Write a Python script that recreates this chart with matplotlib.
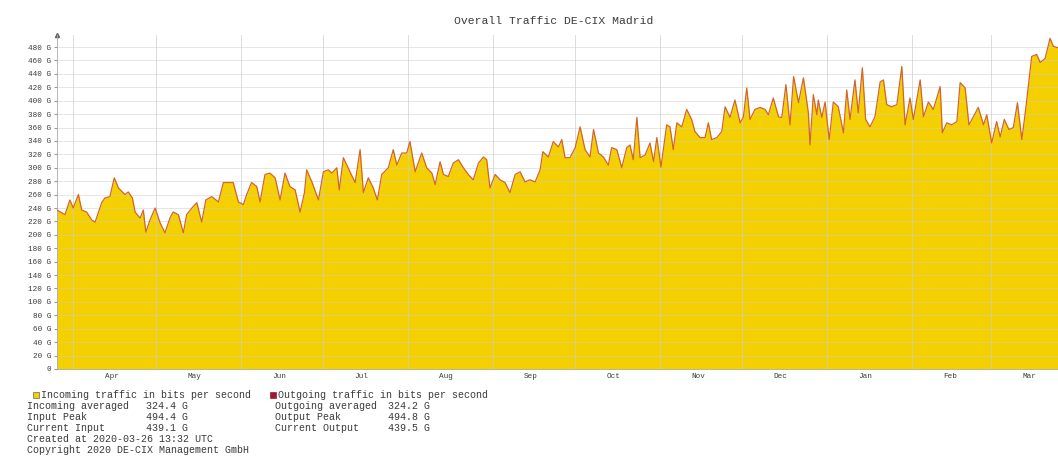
import datetime
import matplotlib
matplotlib.use("Agg")
import matplotlib.pyplot as plt
import matplotlib.dates as mdates
from matplotlib.patches import Rectangle

# days since 2019-03-26 and traffic in Gbit/s
days = [0, 2.9, 4.7, 5.9, 7.8, 9.0, 10.8, 12.7, 13.9, 16.3, 17.5, 19.3, 20.9, 22.4, 24.8, 26.0,
        27.5, 28.5, 30.3, 31.5, 32.4, 33.9, 35.8, 37.6, 39.4, 41.2, 42.4, 44.3, 46.1, 47.3, 49.2,
        51.0, 52.8, 54.3, 56.5, 58.9, 60.7, 63.1, 64.3, 66.2, 68.0, 69.2, 71.0, 72.9, 74.1, 75.9,
        77.7, 79.6, 81.4, 83.2, 85.0, 86.9, 88.7, 90.3,
        91.1, 93.0, 95.4, 97.2, 99.0, 100.3, 102.1, 103.0, 104.5, 106.9, 108.8, 110.6, 111.8,
        113.6, 115.4, 116.9, 118.5, 120.9, 122.7, 124.0, 125.8, 127.6, 128.8, 130.7, 133.1, 134.9,
        136.8, 138.0, 139.8, 141.0, 142.8, 144.6, 146.5, 148.3, 150.1, 151.9, 153.8, 155.6, 156.8,
        158.0, 159.9, 161.7, 163.5, 165.3, 167.2, 169.0, 170.8, 172.6, 174.5, 176.3, 177.3, 179.3,
        181.1, 183.0,
        184.2, 185.4, 187.2, 189.1, 190.9, 192.7, 194.5, 195.8, 197.6, 199.4, 201.2, 202.4, 204.3,
        206.1, 207.9, 209.1, 210.3, 211.6, 212.8, 214.6, 216.4, 217.7, 218.9, 220.4, 222.5, 223.7,
        224.9, 226.2, 228.0, 229.8, 231.6, 232.8, 234.7, 236.5, 237.7, 238.9, 240.8, 242.6, 243.8,
        245.6, 247.4, 249.3, 250.5, 251.7, 252.9, 254.7, 256.6, 258.4, 259.6, 261.4, 263.3, 264.5,
        266.0, 267.5, 268.8, 270.6, 272.4,
        274.2, 274.8, 276.0, 277.3, 277.8, 279.1, 280.3, 281.8, 283.3, 285.1, 287.0, 288.2, 289.4,
        291.2, 292.4, 293.9, 295.1, 296.7, 298.5, 300.4, 301.6, 302.8, 304.6, 306.5, 308.3, 309.5,
        311.3, 312.5, 315.0, 316.2, 318.0, 319.8, 322.3, 323.1, 324.7, 326.5, 328.4, 329.6, 331.4,
        332.8, 334.4, 336.2, 338.1, 339.3, 341.1, 342.9, 344.2, 345.7, 347.4, 349.0, 350.5, 352.1,
        353.5, 355.7, 357.5, 358.8, 360.6, 362.4, 363.6, 365.2]
incoming = [237, 230, 252, 240, 260, 237, 234, 222, 219, 248, 255, 257, 285, 270, 260, 264,
            255, 234, 225, 237, 204, 222, 240, 218, 203, 225, 234, 230, 203, 230, 240,
            248, 219, 252, 257, 249, 278, 278, 278, 249, 245, 260, 278, 272, 249, 290,
            292, 285, 252, 292, 272, 267, 234, 263,
            297, 279, 252, 294, 297, 292, 300, 267, 315, 294, 278, 327, 263,
            285, 270, 252, 290, 300, 327, 304, 322, 322, 339, 294, 322, 300,
            292, 275, 309, 290, 287, 307, 312, 300, 290, 282, 307, 316, 312,
            270, 290, 282, 278, 263, 290, 294, 279, 282, 279, 297, 324, 316,
            339, 331,
            342, 315, 315, 330, 361, 327, 316, 357, 322, 316, 304, 330, 327,
            300, 330, 334, 312, 375, 315, 319, 337, 309, 345, 301, 364, 361,
            327, 367, 361, 387, 372, 354, 345, 345, 367, 342, 345, 354, 391,
            375, 401, 367, 376, 419, 372, 387, 390, 387, 379, 404, 376, 375,
            424, 364, 436, 397, 434,
            382, 334, 409, 379, 401, 375, 398, 342, 398, 391, 352, 416, 372,
            431, 382, 449, 372, 361, 376, 428, 431, 394, 391, 394, 451, 364,
            404, 372, 431, 376, 398, 387, 421, 352, 367, 364, 369, 427, 419,
            364, 376, 390, 364, 379, 337, 369, 346, 372, 357, 360, 397, 342,
            387, 466, 469, 457, 463, 493, 481, 479]
outgoing = incoming

month_names = ["Apr", "May", "Jun", "Jul", "Aug", "Sep", "Oct", "Nov", "Dec", "Jan", "Feb", "Mar"]
y_ticks = list(range(0, 500, 20))

legend_left = ["Incoming averaged", "Input Peak", "Current Input"]
legend_left_vals = ["324.4 G", "494.4 G", "439.1 G"]
legend_right = ["Outgoing averaged", "Output Peak", "Current Output"]
legend_right_vals = ["324.2 G", "494.8 G", "439.5 G"]

start = mdates.date2num(datetime.datetime(2019, 3, 26))
x = [start + d for d in days]

mono = ["Liberation Mono", "DejaVu Sans Mono"]
txt = "#3a3a3a"

fig = plt.figure(figsize=(10.58, 4.57), dpi=100)
ax = fig.add_axes([0.0539, 0.1926, 0.9461, 0.7309])

ax.fill_between(x, incoming, 0, color="#F5D000", lw=0, zorder=1)
ax.plot(x, outgoing, color="#d2652a", lw=0.9, zorder=3)

ax.set_xlim(start, start + 365.3)
ax.set_ylim(0, 498)

ax.xaxis.set_major_locator(mdates.MonthLocator())
ax.xaxis.set_major_formatter(plt.NullFormatter())
ax.xaxis.set_minor_locator(mdates.MonthLocator(bymonthday=15))
ax.xaxis.set_minor_formatter(mdates.DateFormatter("%b"))
ax.tick_params(axis="x", which="both", length=0, labelsize=5.5, labelcolor=txt, pad=3)
for lab in ax.get_xticklabels(minor=True):
    lab.set_family(mono)

ax.set_yticks(y_ticks)
ax.set_yticklabels(["0" if v == 0 else f"{v} G" for v in y_ticks], family=mono)
ax.tick_params(axis="y", length=2, labelsize=5.5, labelcolor=txt, color="#999999", pad=2)

ax.set_axisbelow(False)
ax.grid(True, axis="y", color="#cccccc", lw=0.5, alpha=0.7)
ax.grid(True, axis="x", which="major", color="#cccccc", lw=0.6, alpha=0.8)

for s in ["top", "right"]:
    ax.spines[s].set_visible(False)
ax.spines["left"].set_color("#aaaaaa")
ax.spines["bottom"].set_color("#aaaaaa")
ax.spines["left"].set_linewidth(0.6)
ax.spines["bottom"].set_linewidth(0.6)
ax.plot([0], [1.0], marker="^", ms=3, color="#666666", transform=ax.transAxes, clip_on=False)

fig.text(0.523, 0.955, "Overall Traffic DE-CIX Madrid", ha="center", va="center",
         fontsize=8.2, family=mono, color=txt)

# legend block
fs = 7.2
rows = [395, 406, 417, 428, 439, 450]
def fy(py):
    return 1 - py / 457

fig.patches.append(Rectangle((33 / 1058, fy(398)), 6 / 1058, 6 / 457, transform=fig.transFigure,
                             facecolor="#F5D000", edgecolor="#666666", lw=0.5))
fig.text(41 / 1058, fy(rows[0]), "Incoming traffic in bits per second", fontsize=fs,
         family=mono, color=txt, va="center")
fig.patches.append(Rectangle((270 / 1058, fy(398)), 6 / 1058, 6 / 457, transform=fig.transFigure,
                             facecolor="#a01830", edgecolor="#a01830", lw=0.5))
fig.text(278 / 1058, fy(rows[0]), "Outgoing traffic in bits per second", fontsize=fs,
         family=mono, color=txt, va="center")
for i in range(3):
    fig.text(27 / 1058, fy(rows[i + 1]), legend_left[i], fontsize=fs, family=mono, color=txt, va="center")
    fig.text(146 / 1058, fy(rows[i + 1]), legend_left_vals[i], fontsize=fs, family=mono, color=txt, va="center")
    fig.text(275 / 1058, fy(rows[i + 1]), legend_right[i], fontsize=fs, family=mono, color=txt, va="center")
    fig.text(388 / 1058, fy(rows[i + 1]), legend_right_vals[i], fontsize=fs, family=mono, color=txt, va="center")
fig.text(27 / 1058, fy(rows[4]), "Created at 2020-03-26 13:32 UTC", fontsize=fs, family=mono, color=txt, va="center")
fig.text(27 / 1058, fy(rows[5]), "Copyright 2020 DE-CIX Management GmbH", fontsize=fs, family=mono, color=txt, va="center")

fig.savefig("out.png", dpi=100)
